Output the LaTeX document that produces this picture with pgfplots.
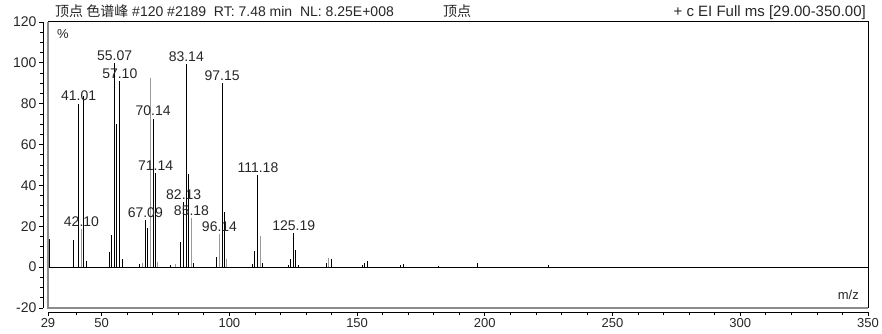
\documentclass[border=0pt]{standalone}
\usepackage{pgfplots}
\pgfplotsset{compat=1.18}
\usepackage{pgfplotstable}
\usepackage{fontspec}
\setmainfont{Liberation Sans}
\newfontfamily\cjk{Noto Sans CJK SC}

\definecolor{txt}{HTML}{262626}
\definecolor{peakgrey}{HTML}{9A9A9A}
\definecolor{framegrey}{HTML}{8C8C8C}

% labelled peaks (m/z, relative abundance %, label)
\pgfplotstableread{
x      y     label
41.01  80.1  41.01
55.07  99.7  55.07
57.10  91.0  57.10
67.09  22.9  67.09
70.14  72.7  70.14
71.14  46.0  71.14
82.13  32.0  82.13
83.14  99.5  83.14
97.15  90.2  97.15
111.18 45.1  111.18
125.19 16.8  125.19
}\labelledblack
\pgfplotstableread{
x      y     label
42.10  18.8  42.10
85.18  24.0  85.18
96.14  16.3  96.14
}\labelledgrey

% unlabelled peaks
\pgfplotstableread{
x    y
29.7 13.7
39   13.1
43   83.7
44   3.0
53   7.2
54   15.7
56   70.3
58   4.2
65   1.6
68   19.3
77   1.0
81   12.3
84   45.6
86   2.0
95   4.9
98   26.8
109  1.5
110  7.7
113  2.0
123  1.0
124  3.9
126  8.5
127  1.0
138  2.0
140  4.2
152  1.0
153  2.0
154  3.1
167  1.0
168  1.5
182  0.8
197  2.0
225  1.0
}\plainblack
\pgfplotstableread{
x    y
66   2.0
69   92.6
72   2.5
79   1.5
99   4.0
112  15.4
139  4.4
}\plaingrey

\begin{document}
\begin{tikzpicture}
\begin{axis}[
  scale only axis,
  width=820pt, height=286pt,
  xmin=29, xmax=350, ymin=-20, ymax=120,
  axis x line*=bottom, axis y line*=left,
  axis x line shift=4pt, axis y line shift=5pt,
  axis line style={black, line width=0.8pt, -},
  xtick={29,50,100,150,200,250,300,350},
  minor xtick={40,60,70,80,90,110,120,130,140,160,170,180,190,210,220,230,240,260,270,280,290,310,320,330,340},
  ytick={-20,0,20,40,60,80,100,120},
  minor ytick={-15,-10,-5,5,10,15,25,30,35,45,50,55,65,70,75,85,90,95,105,110,115},
  tick align=outside,
  major tick length=4pt, minor tick length=3pt,
  tick style={black, line width=0.8pt},
  /pgf/number format/assume math mode=true,
  ticklabel style={font=\fontsize{13}{13}\selectfont, text=txt},
  xticklabel style={yshift=1pt},
  yticklabel style={font=\fontsize{14}{14}\selectfont, xshift=1pt},
  clip=false,
]
% zero line
\addplot[black, line width=1pt] coordinates {(29,0) (350,0)};

\addplot[ycomb, black, line width=1pt, mark=none] table[x=x, y=y] {\plainblack};
\addplot[ycomb, peakgrey, line width=1pt, mark=none] table[x=x, y=y] {\plaingrey};
\addplot[ycomb, peakgrey, line width=1pt, mark=none,
  nodes near coords, point meta=explicit symbolic,
  every node near coord/.append style={font=\fontsize{14}{14}\selectfont, text=txt, inner sep=1pt, yshift=1pt}]
  table[x=x, y=y, meta=label] {\labelledgrey};
\addplot[ycomb, black, line width=1pt, mark=none,
  nodes near coords, point meta=explicit symbolic,
  every node near coord/.append style={font=\fontsize{14}{14}\selectfont, text=txt, inner sep=1pt, yshift=1pt}]
  table[x=x, y=y, meta=label] {\labelledblack};

% frame of the spectrum area
\draw[framegrey, line width=1.5pt] (rel axis cs:0,1) -- (rel axis cs:0,0) -- (rel axis cs:1,0);
\draw[black, line width=1pt] (rel axis cs:0,1) -- (rel axis cs:1,1) -- (rel axis cs:1,0);

% header and annotations
\node[anchor=base west, text=txt, font=\fontsize{14}{14}\selectfont, inner sep=0pt]
  at ([xshift=7pt, yshift=5pt]rel axis cs:0,1)
  {{\cjk 顶点 色谱峰} \#120 \#2189\ \ RT: 7.48 min\ \ NL: 8.25E+008};
\node[anchor=base west, text=txt, font=\fontsize{14}{14}\selectfont, inner sep=0pt]
  at ([xshift=395pt, yshift=5pt]rel axis cs:0,1) {\cjk 顶点};
\node[anchor=base east, text=txt, font=\fontsize{15}{15}\selectfont, inner sep=0pt]
  at ([xshift=-2pt, yshift=5pt]rel axis cs:1,1) {+ c EI Full ms [29.00-350.00]};
\node[anchor=north west, text=txt, font=\fontsize{13}{13}\selectfont, inner sep=0pt]
  at ([xshift=9pt, yshift=-7pt]rel axis cs:0,1) {\%};
\node[anchor=base east, text=txt, font=\fontsize{13}{13}\selectfont, inner sep=0pt]
  at ([xshift=-9pt, yshift=8pt]rel axis cs:1,0) {m/z};
\end{axis}
\pgfresetboundingbox
\path ([shift={(-48pt,-26pt)}]current axis.south west) rectangle ([shift={(14pt,22pt)}]current axis.north east);
\end{tikzpicture}
\end{document}
